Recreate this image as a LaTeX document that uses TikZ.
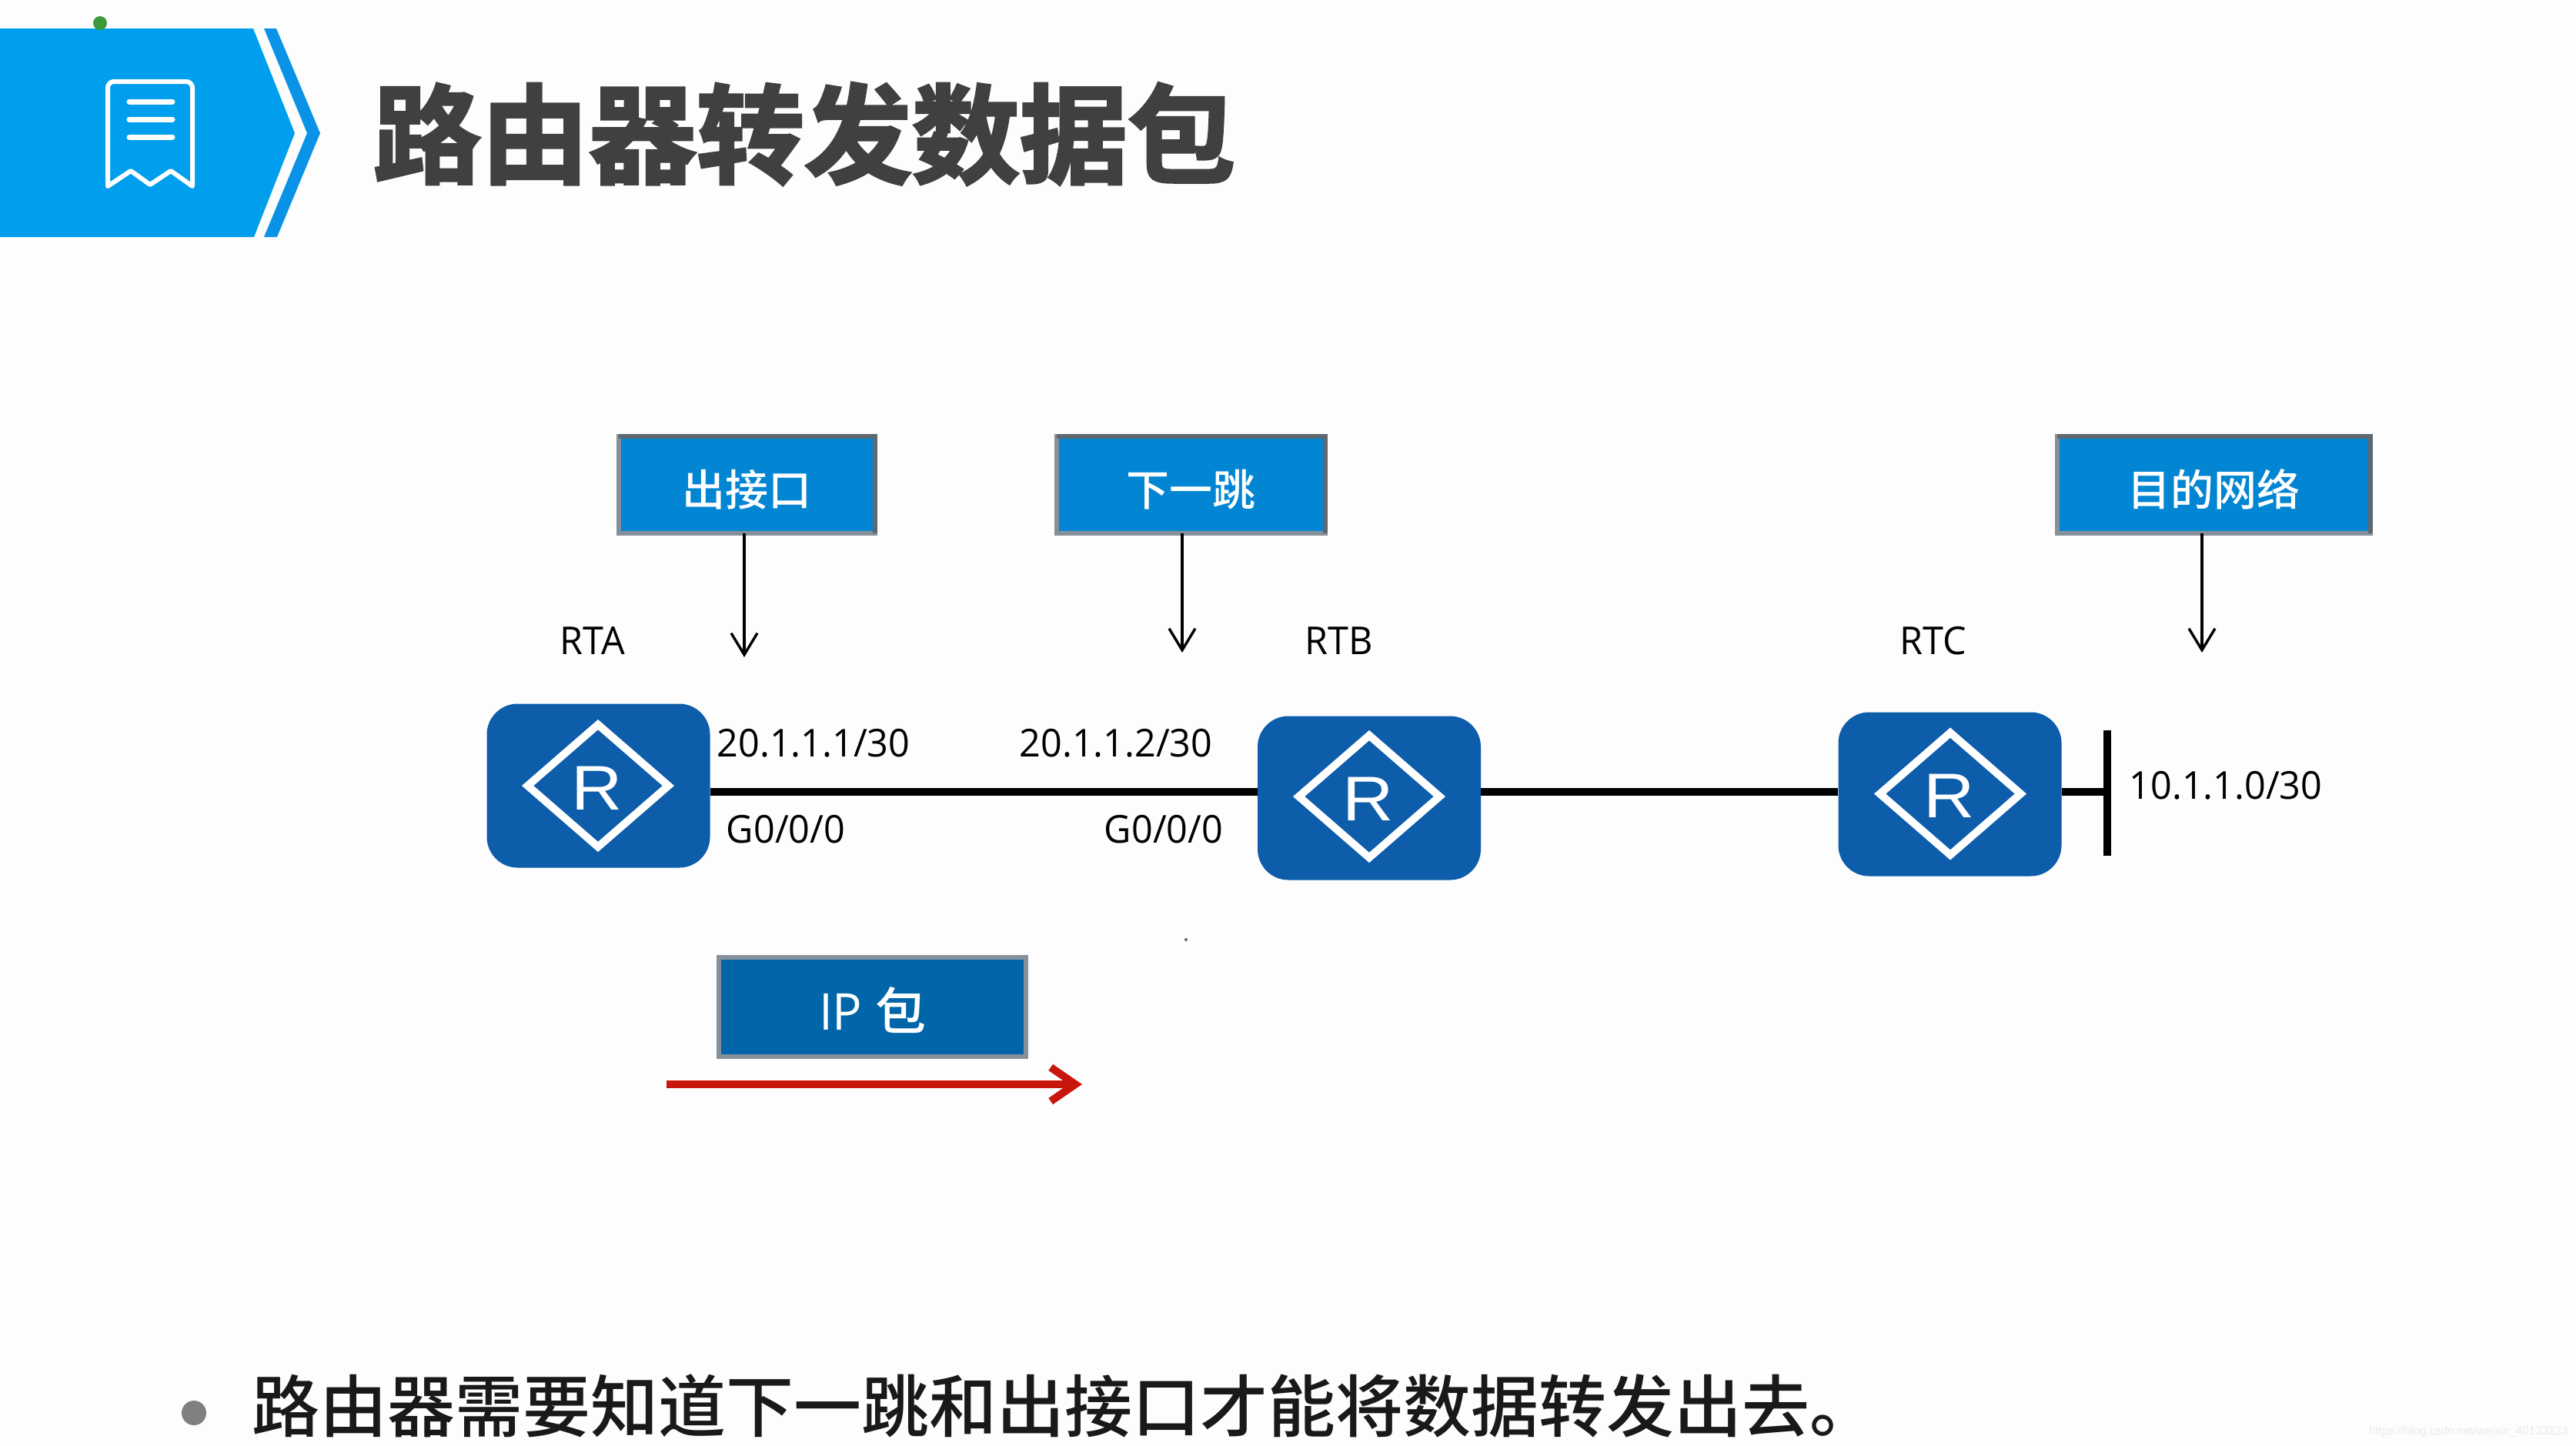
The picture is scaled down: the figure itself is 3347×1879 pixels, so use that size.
\documentclass[tikz,border=0pt]{standalone}
\usepackage{fontspec}
\setmainfont[FakeStretch=0.97]{Open Sans}
\newfontfamily\cjk{Noto Sans CJK SC Medium}
\newfontfamily\cjkbold[FakeBold=2.5]{Noto Sans CJK SC Bold}
\newfontfamily\latinr{Liberation Sans}
\usetikzlibrary{arrows.meta}
\definecolor{pagebg}{HTML}{FDFDFD}
\definecolor{banner}{HTML}{009FEE}
\definecolor{bannerband}{HTML}{0A93E6}
\definecolor{dotgreen}{HTML}{3A9A3A}
\definecolor{routerblue}{HTML}{0D5DAB}
\definecolor{boxblue}{HTML}{0285D2}
\definecolor{ipblue}{HTML}{0166A9}
\definecolor{boxedge}{HTML}{86909A}
\definecolor{boxedgedark}{HTML}{5F6870}
\definecolor{titlegrey}{HTML}{404040}
\definecolor{arrowred}{HTML}{C8160C}
\definecolor{markfaint}{HTML}{EBEBEB}
\newcommand{\lowered}[2]{\raisebox{-#1}[\height][\depth]{#2}}
\tikzset{
  x=0.5pt,y=-0.5pt,
  router/.style={draw=none,fill=routerblue,rounded corners=20pt,minimum width=145pt,minimum height=106.5pt,inner sep=0pt},
  tag/.style={draw=boxedge,line width=3pt,fill=boxblue,inner sep=0pt,outer sep=0pt,text=white,minimum height=63pt,font=\cjk\fontsize{28}{30}\selectfont},
  tagshade/.style={draw=boxedgedark,line width=3pt,line join=miter},
  lbl/.style={inner sep=0pt,text=black,font=\fontsize{25}{30}\selectfont},
  wire/.style={line width=5pt,draw=black},
  pointer/.style={line width=1.7pt,draw=black,-{Straight Barb[length=14pt,width=17pt,line width=1.7pt]}},
}
\newcommand{\routerglyph}[2]{%
  \draw[white,line width=5pt,miter limit=10] (#1-91.4,#2) -- (#1,#2-79.4) -- (#1+91.4,#2) -- (#1,#2+79.4) -- cycle;
  \node[text=white,inner sep=0pt,font=\latinr\fontsize{41}{41}\selectfont] at (#1-1,#2+3) {\scalebox{1.12}[1]{R}};
}
\begin{document}
\begin{tikzpicture}
\useasboundingbox (0,0) rectangle (3347,1879);
\fill[pagebg] (0,0) rectangle (3347,1879);
% banner
\fill[banner] (0,37) -- (329,37) -- (383,173) -- (330,308) -- (0,308) -- cycle;
\fill[bannerband] (343,37) -- (359,37) -- (416,173) -- (360,308) -- (343,308) -- (399,173) -- cycle;
\fill[dotgreen] (130,30) ellipse (9 and 9);
% icon
\draw[white,line width=3pt,line join=round] (140,242) -- (140,114) arc (180:270:8) -- (242,106) arc (270:360:8) -- (250,242) -- (222,222) -- (195,240) -- (170,222) -- cycle;
\draw[white,line width=3.5pt,line cap=round] (168,132) -- (224,132);
\draw[white,line width=3.5pt,line cap=round] (168,155) -- (224,155);
\draw[white,line width=3.5pt,line cap=round] (168,178) -- (224,178);
% title
\node[anchor=center,inner sep=0pt,text=titlegrey,font=\cjkbold\fontsize{70}{70}\selectfont] (title) at (1045,174) {路由器转发数据包};
% routers
\node[router] (rta) at (777.5,1021) {};
\node[router] (rtb) at (1779,1037) {};
\node[router] (rtc) at (2533.5,1032) {};
\coordinate (bartop) at (2737.5,949);
\coordinate (barbot) at (2737.5,1112);
\coordinate (barmid) at (2737.5,1029);
\coordinate (wa) at (rta.east |- barmid);
\coordinate (wb1) at (rtb.west |- barmid);
\coordinate (wb2) at (rtb.east |- barmid);
\coordinate (wc1) at (rtc.west |- barmid);
\coordinate (wc2) at (rtc.east |- barmid);
\draw[wire] (wa) -- (wb1);
\draw[wire] (wb2) -- (wc1);
\draw[wire] (wc2) -- (barmid);
\draw[wire] (bartop) -- (barbot);
\routerglyph{777}{1021}
\routerglyph{1779}{1035}
\routerglyph{2534}{1031.5}
% tags
\node[tag,minimum width=166.5pt] (t1) at (970.5,630) {\lowered{3pt}{出接口}};
\node[tag,minimum width=174.5pt] (t2) at (1547.5,630) {\lowered{3pt}{下一跳}};
\node[tag,minimum width=203.5pt] (t3) at (2876,630) {\lowered{3pt}{目的网络}};
\draw[tagshade] (t1.north west) -- (t1.north east) -- (t1.south east);
\draw[tagshade] (t2.north west) -- (t2.north east) -- (t2.south east);
\draw[tagshade] (t3.north west) -- (t3.north east) -- (t3.south east);
\coordinate (p1) at (967,854);
\coordinate (p2) at (1536,848);
\coordinate (p3) at (2861,848);
\draw[pointer] (t1.south -| p1) -- (p1);
\draw[pointer] (t2.south -| p2) -- (p2);
\draw[pointer] (t3.south -| p3) -- (p3);
% labels
\node[lbl] (la) at (770,833) {RTA};
\node[lbl] (lb) at (1740,833) {RTB};
\node[lbl] (lc) at (2512,833) {RTC};
\node[lbl] (i1) at (1057,966) {20.1.1.1/30};
\node[lbl] (i2) at (1450,966) {20.1.1.2/30};
\node[lbl] (g1) at (1021,1078) {G0/0/0};
\node[lbl] (g2) at (1512,1078) {G0/0/0};
\node[lbl] (n1) at (2892,1021) {10.1.1.0/30};
% packet
\node[draw=boxedge,line width=3pt,fill=ipblue,inner sep=0pt,outer sep=0pt,minimum width=199.5pt,minimum height=64.5pt,text=white,font=\fontsize{33}{35}\selectfont] (ip) at (1133.5,1308.5) {\lowered{2pt}{IP {\cjk 包}}};
\coordinate (r1) at (866,1409);
\coordinate (r2) at (1406,1409);
\draw[arrowred,line width=5pt,-{Straight Barb[length=16pt,width=22pt,line width=5pt]}] (r1) -- (r2);
\fill[black!60] (1541,1221) circle (2);
% bullet
\fill[black!50] (252,1836) circle (16);
\node[anchor=west,inner sep=0pt,text=black!90,font=\cjk\fontsize{44}{50}\selectfont] (txt) at (327,1827) {路由器需要知道下一跳和出接口才能将数据转发出去。};
% source mark
\node[anchor=east,inner sep=0pt,text=markfaint,font=\latinr\fontsize{7.6}{9}\selectfont] (mark) at (3337,1861) {https://blog.csdn.net/weixin\_40123223};
\end{tikzpicture}
\end{document}
